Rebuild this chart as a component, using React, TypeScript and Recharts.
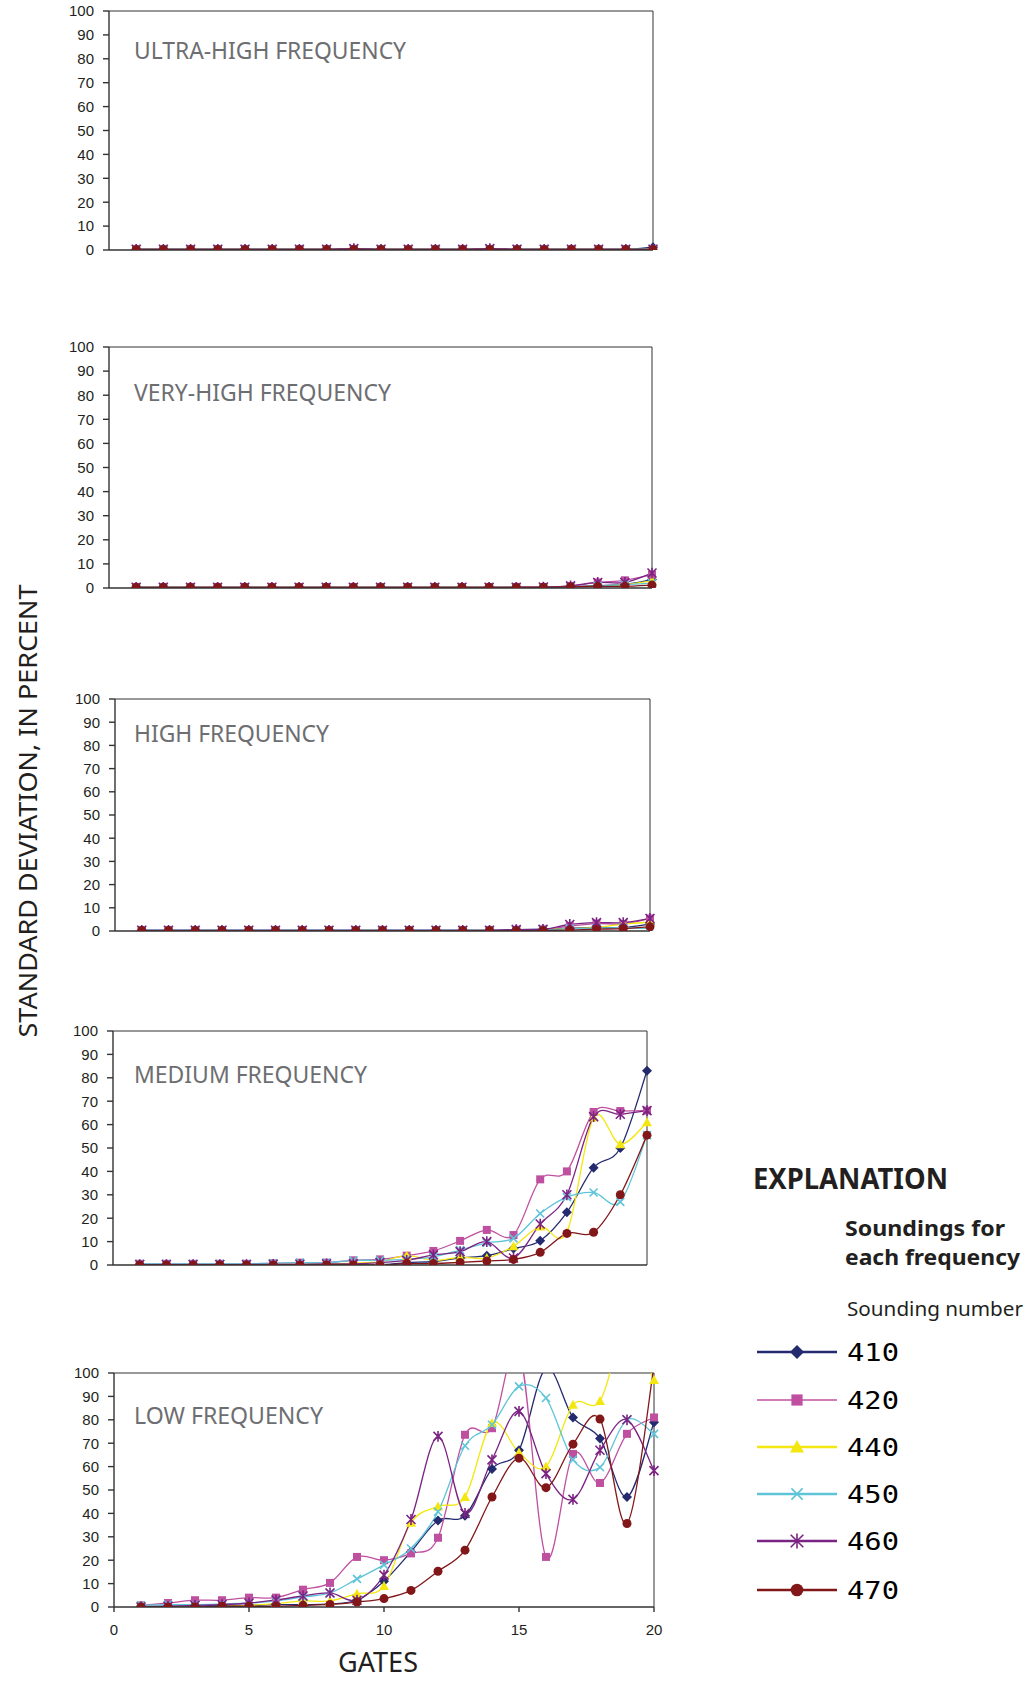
import React from 'react';
import { LineChart, Line, XAxis, YAxis, ReferenceLine } from 'recharts';

// gates on the x axis
const GATES = [1, 2, 3, 4, 5, 6, 7, 8, 9, 10, 11, 12, 13, 14, 15, 16, 17, 18, 19, 20];
const SOUNDINGS = ['410', '420', '440', '450', '460', '470'];
const Y_TICKS = [0, 10, 20, 30, 40, 50, 60, 70, 80, 90, 100];
const X_TICKS = [0, 5, 10, 15, 20];

// ultra-high frequency
const UHF_410 = [0.3, 0.3, 0.3, 0.3, 0.3, 0.3, 0.3, 0.3, 0.4, 0.3, 0.3, 0.3, 0.3, 0.4, 0.3, 0.3, 0.3, 0.3, 0.3, 1.2];
const UHF_420 = [0.3, 0.3, 0.3, 0.3, 0.3, 0.3, 0.3, 0.3, 0.3, 0.3, 0.3, 0.3, 0.3, 0.3, 0.3, 0.3, 0.3, 0.3, 0.3, 0.3];
const UHF_440 = [0.2, 0.2, 0.2, 0.2, 0.2, 0.2, 0.2, 0.2, 0.2, 0.2, 0.2, 0.2, 0.2, 0.2, 0.2, 0.2, 0.2, 0.2, 0.2, 0.3];
const UHF_450 = [0.4, 0.4, 0.4, 0.4, 0.4, 0.4, 0.4, 0.4, 0.4, 0.4, 0.4, 0.4, 0.4, 0.4, 0.4, 0.4, 0.4, 0.4, 0.4, 0.4];
const UHF_460 = [0.3, 0.3, 0.3, 0.3, 0.3, 0.3, 0.3, 0.3, 0.6, 0.3, 0.3, 0.3, 0.3, 0.6, 0.3, 0.3, 0.3, 0.3, 0.3, 0.3];
const UHF_470 = [0.2, 0.2, 0.2, 0.2, 0.2, 0.2, 0.2, 0.2, 0.2, 0.2, 0.2, 0.2, 0.2, 0.2, 0.2, 0.2, 0.2, 0.2, 0.2, 0.2];

// very-high frequency
const VHF_410 = [0.3, 0.3, 0.3, 0.3, 0.3, 0.3, 0.3, 0.3, 0.3, 0.3, 0.3, 0.3, 0.3, 0.3, 0.3, 0.3, 0.6, 1.0, 1.5, 3.5];
const VHF_420 = [0.3, 0.3, 0.3, 0.3, 0.3, 0.3, 0.3, 0.3, 0.3, 0.3, 0.3, 0.3, 0.3, 0.3, 0.3, 0.4, 0.8, 2.3, 3.2, 5.5];
const VHF_440 = [0.3, 0.3, 0.3, 0.3, 0.3, 0.3, 0.3, 0.3, 0.3, 0.3, 0.3, 0.3, 0.3, 0.3, 0.3, 0.3, 0.5, 0.8, 1.4, 3.0];
const VHF_450 = [0.2, 0.2, 0.2, 0.2, 0.2, 0.2, 0.2, 0.2, 0.2, 0.2, 0.2, 0.2, 0.2, 0.2, 0.2, 0.2, 0.5, 0.8, 1.4, 2.0];
const VHF_460 = [0.3, 0.3, 0.3, 0.3, 0.3, 0.3, 0.3, 0.3, 0.3, 0.3, 0.3, 0.3, 0.3, 0.3, 0.3, 0.4, 0.9, 2.3, 2.3, 6.2];
const VHF_470 = [0.3, 0.3, 0.3, 0.3, 0.3, 0.3, 0.3, 0.3, 0.3, 0.3, 0.3, 0.3, 0.3, 0.3, 0.3, 0.3, 0.5, 0.7, 0.7, 1.2];

// high frequency
const HF_410 = [0.3, 0.3, 0.3, 0.3, 0.3, 0.3, 0.3, 0.3, 0.3, 0.3, 0.3, 0.3, 0.3, 0.3, 0.6, 0.8, 1.2, 1.5, 1.5, 3.0];
const HF_420 = [0.3, 0.3, 0.3, 0.3, 0.3, 0.3, 0.3, 0.3, 0.3, 0.3, 0.3, 0.3, 0.3, 0.3, 0.5, 0.6, 2.1, 3.2, 3.0, 5.4];
const HF_440 = [0, 0, 0, 0, 0, 0, 0, 0, 0.2, 0.2, 0.2, 0.2, 0.2, 0.2, 0, 0.5, 1.0, 1.5, 3.0, 3.8];
const HF_450 = [0.4, 0.4, 0.4, 0.4, 0.4, 0.4, 0.4, 0.4, 0.4, 0.4, 0.4, 0.4, 0.4, 0.4, 0.4, 0.4, 1.0, 1.2, 1.4, 1.0];
const HF_460 = [0.3, 0.3, 0.3, 0.3, 0.3, 0.3, 0.3, 0.3, 0.3, 0.3, 0.3, 0.3, 0.3, 0.3, 0.6, 0.7, 2.8, 3.6, 3.6, 5.4];
const HF_470 = [0.2, 0.2, 0.2, 0.2, 0.2, 0.2, 0.2, 0.2, 0.2, 0.2, 0.2, 0.2, 0.2, 0.2, 0.2, 0.2, 0.4, 0.8, 1.0, 1.8];

// medium frequency
const MF_410 = [0.2, 0.2, 0.2, 0.2, 0.2, 0.2, 0.2, 0.2, 0.2, 0, 1, 1.5, 3, 4, 7, 10.4, 22.5, 41.6, 50, 83];
const MF_420 = [0.5, 0.5, 0.5, 0.5, 0.5, 0.7, 1, 1, 2, 2.4, 4, 6, 10.3, 15, 12.8, 36.6, 40, 65.4, 65.8, 66];
const MF_440 = [0, 0, 0, 0, 0, 0.3, 0.3, 0.5, 0.8, 1.4, 4, 2, 3.3, 3, 8, 16.4, 14, 63, 51.6, 61];
const MF_450 = [0.5, 0.5, 0.5, 0.5, 0.5, 0.8, 1, 1, 2, 2, 2.4, 3.5, 6.4, 9.5, 11.4, 22, 29, 31, 27, 55.5];
const MF_460 = [0.2, 0.2, 0.2, 0.2, 0.2, 0.3, 0.3, 0.5, 0.5, 1, 2, 4.3, 5.7, 10, 3, 17.5, 30, 63.4, 64.4, 66];
const MF_470 = [0, 0, 0, 0, 0, 0, 0, 0, 0, 0, 0.6, 0.6, 1.1, 1.7, 2.4, 5.4, 13.5, 14, 30, 55.5];

// low frequency
const LF_410 = [0.3, 0.4, 0.4, 0.7, 0.7, 1, 1, 1.3, 3, 11, 23.6, 37, 39, 59, 67, 102, 81, 72, 47, 79];
const LF_420 = [0.7, 1.7, 2.9, 2.9, 4, 4, 7.4, 10.3, 21.4, 20, 22.9, 29.6, 73.6, 76.4, 110, 21.4, 65.4, 53, 74, 81];
const LF_440 = [0, 0, 0, 0.3, 0.7, 1.4, 2.6, 2.6, 5.7, 9, 36, 43, 47, 78.6, 66, 60, 86.4, 88, 120, 97];
const LF_450 = [0.7, 1, 1, 1.3, 1.7, 2.6, 4.3, 6, 12, 18, 25, 40.7, 68.9, 77.9, 94.3, 89.3, 63, 59.7, 80, 74];
const LF_460 = [0, 0.3, 0.7, 1, 1.7, 3, 4.7, 6, 2.9, 13.6, 37.4, 72.9, 40, 62.9, 83.6, 57, 46, 67, 80, 58.3];
const LF_470 = [0, 0, 0, 0.3, 0.3, 0.3, 0.7, 1.1, 2.1, 3.6, 7.1, 15.3, 24.3, 47, 63.6, 51, 69.6, 80.3, 35.7, 103];

const COLORS = ['#232a6e', '#bf50a0', '#f4e711', '#5ec4d8', '#7b2383', '#82171a'];
const SHAPES = ['diamond', 'square', 'triangle', 'cross', 'star', 'circle'];

const PANELS = [
  { title: 'ULTRA-HIGH FREQUENCY', series: [UHF_410, UHF_420, UHF_440, UHF_450, UHF_460, UHF_470], ax: 109, rx: 653, top: 11, bottom: 250, titleY: 59, titleW: 272, labels: false },
  { title: 'VERY-HIGH FREQUENCY', series: [VHF_410, VHF_420, VHF_440, VHF_450, VHF_460, VHF_470], ax: 109, rx: 652, top: 347, bottom: 588, titleY: 401, titleW: 257, labels: false },
  { title: 'HIGH FREQUENCY', series: [HF_410, HF_420, HF_440, HF_450, HF_460, HF_470], ax: 115, rx: 650, top: 699, bottom: 931, titleY: 742, titleW: 195, labels: false },
  { title: 'MEDIUM FREQUENCY', series: [MF_410, MF_420, MF_440, MF_450, MF_460, MF_470], ax: 113, rx: 647, top: 1031, bottom: 1265, titleY: 1083, titleW: 233, labels: false },
  { title: 'LOW FREQUENCY', series: [LF_410, LF_420, LF_440, LF_450, LF_460, LF_470], ax: 114, rx: 654, top: 1373, bottom: 1607, titleY: 1424, titleW: 189, labels: true },
];

const LEGEND_Y = [1352, 1400, 1447, 1494, 1541, 1590];

// Catmull-Rom style smoothing, close to the spreadsheet "smoothed line" look
function smoothCurve(context: any) {
  let pts: number[][] = [];
  return {
    areaStart() {},
    areaEnd() {},
    lineStart() { pts = []; },
    lineEnd() {
      const n = pts.length;
      if (!n) return;
      context.moveTo(pts[0][0], pts[0][1]);
      for (let i = 0; i < n - 1; i++) {
        const p0 = pts[Math.max(0, i - 1)];
        const p1 = pts[i];
        const p2 = pts[i + 1];
        const p3 = pts[Math.min(n - 1, i + 2)];
        context.bezierCurveTo(
          p1[0] + (p2[0] - p0[0]) / 6, p1[1] + (p2[1] - p0[1]) / 6,
          p2[0] - (p3[0] - p1[0]) / 6, p2[1] - (p3[1] - p1[1]) / 6,
          p2[0], p2[1],
        );
      }
    },
    point(x: number, y: number) { pts.push([+x, +y]); },
  };
}

function Mark({ shape, cx, cy, color, s = 1 }: any) {
  if (cx == null || cy == null || isNaN(cx) || isNaN(cy)) return <g />;
  if (shape === 'diamond') {
    const r = 5 * s;
    return <polygon points={`${cx},${cy - r} ${cx + r},${cy} ${cx},${cy + r} ${cx - r},${cy}`} fill={color} />;
  }
  if (shape === 'square') {
    const r = 4 * s;
    return <rect x={cx - r} y={cy - r} width={2 * r} height={2 * r} fill={color} />;
  }
  if (shape === 'triangle') {
    const r = 5 * s;
    return <polygon points={`${cx},${cy - r} ${cx + r},${cy + r * 0.8} ${cx - r},${cy + r * 0.8}`} fill={color} />;
  }
  if (shape === 'cross') {
    const r = 4 * s;
    return <path d={`M${cx - r},${cy - r}L${cx + r},${cy + r}M${cx - r},${cy + r}L${cx + r},${cy - r}`} stroke={color} strokeWidth={1.6} fill="none" />;
  }
  if (shape === 'star') {
    const r = 4.5 * s;
    return <path d={`M${cx - r},${cy - r}L${cx + r},${cy + r}M${cx - r},${cy + r}L${cx + r},${cy - r}M${cx},${cy - r * 1.2}L${cx},${cy + r * 1.2}`} stroke={color} strokeWidth={1.6} fill="none" />;
  }
  return <circle cx={cx} cy={cy} r={4.5 * s} fill={color} />;
}

const CW = 700;
const AXIS = '#333';

function Panel({ p }: any) {
  const rows = GATES.map((g, i) => {
    const row: any = { gate: g };
    SOUNDINGS.forEach((s, k) => { row['s' + s] = p.series[k][i]; });
    return row;
  });
  const h = p.bottom - p.top + 10 + 45;
  return (
    <div style={{ position: 'absolute', left: 0, top: p.top - 10, width: CW, height: h }}>
      <LineChart width={CW} height={h} data={rows} margin={{ top: 10, right: CW - p.rx, bottom: 0, left: p.ax - 60 }}>
        <XAxis
          type="number"
          dataKey="gate"
          domain={[0, 20]}
          ticks={X_TICKS}
          interval={0}
          height={45}
          tickSize={5}
          tickMargin={12}
          stroke={AXIS}
          strokeWidth={1.4}
          tick={p.labels ? { fill: '#231f20', fontSize: 15, fontFamily: 'Liberation Sans, Arial, sans-serif' } : false}
        />
        <YAxis
          type="number"
          domain={[0, 100]}
          allowDataOverflow
          ticks={Y_TICKS}
          interval={0}
          width={60}
          tickSize={6}
          tickMargin={9}
          stroke={AXIS}
          strokeWidth={1.4}
          tick={{ fill: '#231f20', fontSize: 15, fontFamily: 'Liberation Sans, Arial, sans-serif' }}
        />
        <ReferenceLine y={100} stroke={AXIS} strokeWidth={1} />
        <ReferenceLine x={20} stroke={AXIS} strokeWidth={1} />
        {SOUNDINGS.map((s, k) => (
          <Line
            key={s}
            dataKey={'s' + s}
            type={smoothCurve as any}
            stroke={COLORS[k]}
            strokeWidth={1.3}
            isAnimationActive={false}
            activeDot={false}
            dot={(d: any) => <Mark key={`d-${s}-${d.index}`} shape={SHAPES[k]} cx={d.cx} cy={d.cy} color={COLORS[k]} />}
          />
        ))}
      </LineChart>
    </div>
  );
}

export default function App() {
  const sans = 'Noto Sans, Open Sans, sans-serif';
  return (
    <div style={{ position: 'absolute', left: 0, top: 0, width: 1030, height: 1681, background: '#fff', overflow: 'hidden' }}>
      {PANELS.map((p) => <Panel key={p.title} p={p} />)}
      <svg width={1030} height={1681} style={{ position: 'absolute', left: 0, top: 0, pointerEvents: 'none' }}>
        {PANELS.map((p) => (
          <text key={p.title} x={134} y={p.titleY} fontSize={24} fontFamily={sans} fill="#6d6e71" textLength={p.titleW} lengthAdjust="spacingAndGlyphs">
            {p.title}
          </text>
        ))}
        <text transform="translate(37,811) rotate(-90)" textAnchor="middle" fontSize={26} fontFamily={sans} fill="#231f20" textLength={453} lengthAdjust="spacingAndGlyphs">
          STANDARD DEVIATION, IN PERCENT
        </text>
        <text x={338} y={1672} fontSize={27} fontFamily={sans} fill="#231f20" textLength={80} lengthAdjust="spacingAndGlyphs">GATES</text>

        <text x={753} y={1189} fontSize={28} fontWeight="bold" fontFamily={sans} fill="#231f20" textLength={195} lengthAdjust="spacingAndGlyphs">EXPLANATION</text>
        <text x={845} y={1236} fontSize={22} fontWeight="bold" fontFamily={sans} fill="#231f20" textLength={160} lengthAdjust="spacingAndGlyphs">Soundings for</text>
        <text x={845} y={1265} fontSize={22} fontWeight="bold" fontFamily={sans} fill="#231f20" textLength={175} lengthAdjust="spacingAndGlyphs">each frequency</text>
        <text x={847} y={1316} fontSize={20.5} fontFamily={sans} fill="#231f20" textLength={176} lengthAdjust="spacingAndGlyphs">Sounding number</text>
        {SOUNDINGS.map((s, k) => (
          <g key={s}>
            <line x1={757} x2={837} y1={LEGEND_Y[k]} y2={LEGEND_Y[k]} stroke={COLORS[k]} strokeWidth={k === 1 ? 1.6 : 2.4} />
            <Mark shape={SHAPES[k]} cx={797} cy={LEGEND_Y[k]} color={COLORS[k]} s={1.4} />
            <text x={847} y={LEGEND_Y[k] + 8.5} fontSize={24} fontFamily="DejaVu Sans Mono, monospace" fill="#000" textLength={52} lengthAdjust="spacingAndGlyphs">{s}</text>
          </g>
        ))}
      </svg>
    </div>
  );
}
